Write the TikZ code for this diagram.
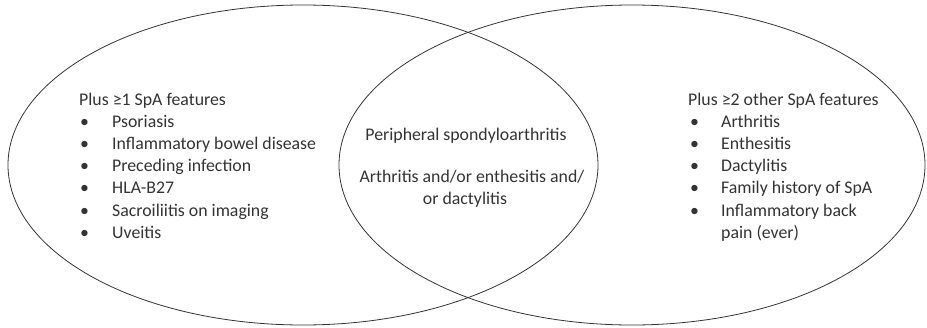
\documentclass[tikz,border=0pt]{standalone}
\usepackage{fontspec}
\setmainfont{Carlito}
\usetikzlibrary{shapes.geometric}
\begin{document}
\begin{tikzpicture}[x=1pt,y=-1pt,
  venn/.style={ellipse,draw=black!80,line width=0.8pt,inner sep=0pt},
  txt/.style={anchor=base west,inner sep=0pt,font=\fontsize{17.8}{21}\selectfont,text=black!80},
  ctxt/.style={anchor=base,inner sep=0pt,font=\fontsize{17.8}{21}\selectfont,text=black!80}]
\useasboundingbox (0,0) rectangle (927,327);
\node[venn,minimum width=590pt,minimum height=320pt] (L) at (303,165) {};
\node[venn,minimum width=586pt,minimum height=320pt] (R) at (632,165) {};
% left list
\node[txt] (lh) at (79,105) {Plus ≥1 SpA features};
\foreach \t [count=\i] in {Psoriasis,Inflammatory bowel disease,Preceding infection,HLA-B27,Sacroiliitis on imaging,Uveitis}{
  \node[txt] (lb\i) at (80,105+22.2*\i) {•};
  \node[txt] (lt\i) at (112,105+22.2*\i) {\t};
}
% right list
\node[txt] (rh) at (688,105) {Plus ≥2 other SpA features};
\foreach \t [count=\i] in {Arthritis,Enthesitis,Dactylitis,Family history of SpA,Inflammatory back}{
  \node[txt] (rb\i) at (690,105+22.2*\i) {•};
  \node[txt] (rt\i) at (721,105+22.2*\i) {\t};
}
\node[txt] (rt6) at (721,105+22.2*6) {pain (ever)};
% center
\node[ctxt] (c1) at (466,140) {Peripheral spondyloarthritis};
\node[ctxt] (c2) at (472,182) {Arthritis and/or enthesitis and/};
\node[ctxt] (c3) at (465,204) {or dactylitis};
\end{tikzpicture}
\end{document}
